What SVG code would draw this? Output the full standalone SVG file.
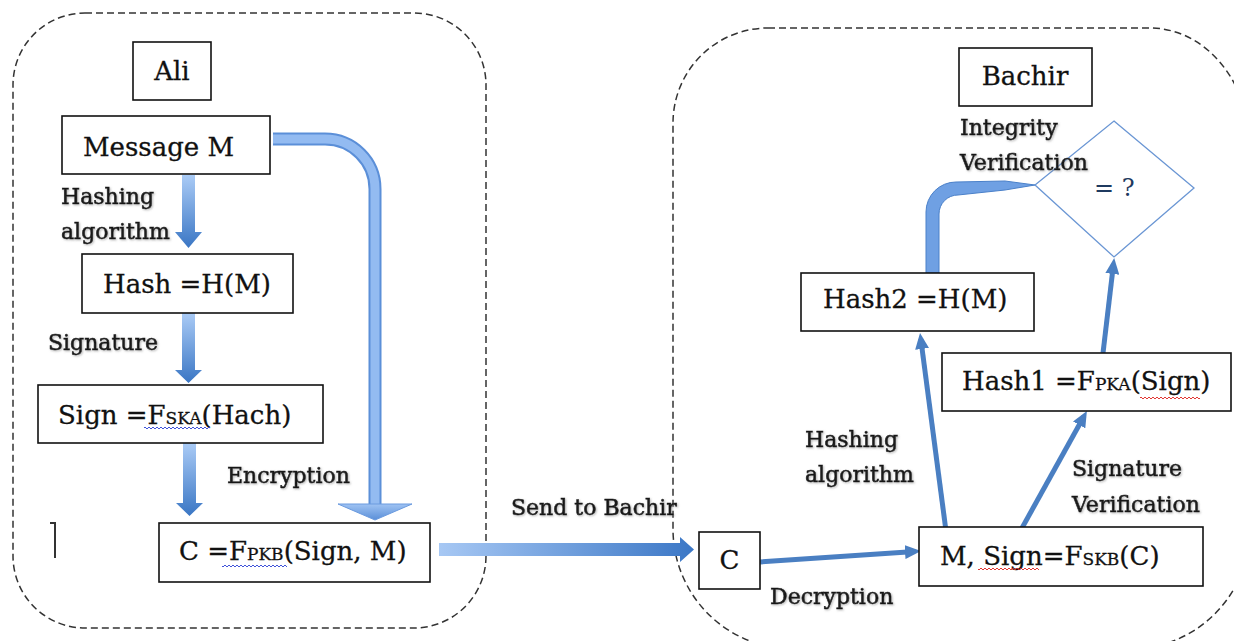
<svg xmlns="http://www.w3.org/2000/svg" width="1234" height="641" viewBox="0 0 1234 641">
  <style>
    .zone { fill: none; stroke: #333; stroke-width: 1.5; stroke-dasharray: 7 4; }
    .box { fill: #fff; stroke: #111; stroke-width: 1.6; }
    .bt { font-family: "DejaVu Serif", "Liberation Serif", serif; font-size: 26px; fill: #111; stroke: #111; stroke-width: 0.3; }
    .sc { font-size: 17px; }
    .lbl { font-family: "DejaVu Serif", "Liberation Serif", serif; font-size: 22px; fill: #1a1a1a; stroke: #1a1a1a; stroke-width: 0.55; filter: url(#glow); }
    .thin { fill: none; stroke: #4a7fc2; stroke-width: 5; marker-end: url(#head); }
    .spell-blue { fill: url(#waveBlue); }
    .spell-red { fill: url(#waveRed); }
  </style>
  <defs>
    <linearGradient id="gradV" x1="0" y1="0" x2="0" y2="1">
      <stop offset="0" stop-color="#aacbf6"/>
      <stop offset="1" stop-color="#3a76c4"/>
    </linearGradient>
    <linearGradient id="gradH" x1="0" y1="0" x2="1" y2="0">
      <stop offset="0" stop-color="#a7c8f4"/>
      <stop offset="1" stop-color="#3b77c6"/>
    </linearGradient>
    <linearGradient id="gradHead" x1="0" y1="0" x2="0" y2="1">
      <stop offset="0" stop-color="#9fc3f3"/>
      <stop offset="1" stop-color="#5a8fd8"/>
    </linearGradient>
    <marker id="head" markerUnits="userSpaceOnUse" viewBox="0 0 16 14" refX="10" refY="7" markerWidth="16" markerHeight="14" orient="auto">
      <path d="M0,0 L16,7 L0,14 Z" fill="#4a7fc2"/>
    </marker>
    <pattern id="waveBlue" patternUnits="userSpaceOnUse" width="4" height="3">
      <path d="M0,2 Q1,0 2,2 T4,2" fill="none" stroke="#2a3fd6" stroke-width="0.9"/>
    </pattern>
    <pattern id="waveRed" patternUnits="userSpaceOnUse" width="4" height="3">
      <path d="M0,2 Q1,0 2,2 T4,2" fill="none" stroke="#e0201c" stroke-width="0.9"/>
    </pattern>
    <filter id="glow" x="-10%" y="-30%" width="120%" height="160%">
      <feGaussianBlur in="SourceAlpha" stdDeviation="1.2"/>
      <feOffset dx="1" dy="1" result="b"/>
      <feFlood flood-color="#777" flood-opacity="0.55"/>
      <feComposite in2="b" operator="in"/>
      <feMerge><feMergeNode/><feMergeNode in="SourceGraphic"/></feMerge>
    </filter>
  </defs>

  <rect width="1234" height="641" fill="#fff"/>

  <!-- dashed party zones -->
  <g id="zones">
    <rect class="zone" x="13" y="13" width="473" height="615" rx="72" ry="72"/>
    <path class="zone" d="M768,28 H1150 A100,120 0 0 1 1250,148 V529 A120,120 0 0 1 1130,649 H793 A120,120 0 0 1 673,529 V123 A95,95 0 0 1 768,28 Z"/>
  </g>

  <!-- connectors -->
  <g id="connectors">
    <!-- Ali: block arrows -->
    <polygon points="182,175 195,175 195,232 202,232 188.5,248 175,232 182,232" fill="url(#gradV)"/>
    <polygon points="182,313 195,313 195,370 202,370 188.5,383 175,370 182,370" fill="url(#gradV)"/>
    <polygon points="183,443 196,443 196,503 203,503 189.5,516 176,503 183,503" fill="url(#gradV)"/>
    <!-- message bypass to encryption -->
    <path d="M273,139 H325 A50,50 0 0 1 375,189 V505" fill="none" stroke="#5b8fd8" stroke-width="13"/>
    <path d="M273,139 H325 A50,50 0 0 1 375,189 V505" fill="none" stroke="#93bbf1" stroke-width="9"/>
    <polygon points="338,504 412,504 375,520" fill="url(#gradHead)" stroke="#6a9ade" stroke-width="1"/>
    <!-- send to Bachir -->
    <polygon points="439,543 680,543 680,537 694,549.5 680,562 680,556 439,556" fill="url(#gradH)"/>
    <!-- Bachir: thin arrows -->
    <line class="thin" x1="760" y1="562" x2="915" y2="551.4"/>
    <line class="thin" x1="946" y1="531" x2="920.8" y2="339"/>
    <line class="thin" x1="1017" y1="537" x2="1084" y2="416.2"/>
    <line class="thin" x1="1103" y1="353" x2="1113.5" y2="264"/>
    <!-- Hash2 into comparison -->
    <path d="M926,273 V212 A30,30 0 0 1 956,182 L1005,181 L1035,185 L1005,190 L958,195 A19,19 0 0 0 939,214 V273 Z" fill="#6fa0e3" stroke="#4a80c9" stroke-width="1"/>
  </g>

  <!-- Ali side -->
  <g id="ali">
    <rect class="box" x="133" y="42" width="78" height="58"/>
    <text class="bt" x="172" y="80" text-anchor="middle">Ali</text>
  </g>
  <g id="message">
    <rect class="box" x="62" y="116" width="208" height="58"/>
    <text class="bt" x="83" y="156">Message M</text>
  </g>
  <g id="hash">
    <rect class="box" x="82" y="254" width="211" height="59"/>
    <text class="bt" x="103" y="293">Hash =H(M)</text>
  </g>
  <g id="sign">
    <rect class="box" x="38" y="385" width="285" height="58"/>
    <text class="bt" x="58" y="424">Sign =F<tspan class="sc">SKA</tspan>(Hach)</text>
    <rect class="spell-blue" x="144" y="426" width="66" height="3"/>
  </g>
  <g id="cipher">
    <rect class="box" x="159" y="523" width="271" height="59"/>
    <text class="bt" x="179" y="560">C =F<tspan class="sc">PKB</tspan>(Sign, M)</text>
    <rect class="spell-blue" x="222" y="564" width="65" height="3"/>
    <polyline points="50,523 55,523 55,558" fill="none" stroke="#333" stroke-width="2"/>
  </g>
  <g id="ali-labels">
    <text class="lbl" x="61" y="204">Hashing</text>
    <text class="lbl" x="61" y="239">algorithm</text>
    <text class="lbl" x="48" y="350">Signature</text>
    <text class="lbl" x="227" y="483">Encryption</text>
  </g>

  <g id="send-label">
    <text class="lbl" x="511" y="515">Send to Bachir</text>
  </g>

  <!-- Bachir side -->
  <g id="bachir">
    <rect class="box" x="959" y="48" width="133" height="58"/>
    <text class="bt" x="1025" y="85" text-anchor="middle">Bachir</text>
  </g>
  <g id="compare">
    <polygon points="1114,121 1194,188 1114,257 1035,185" fill="#fff" stroke="#6a96d4" stroke-width="1.3"/>
    <text x="1094" y="196" font-family="DejaVu Serif, Liberation Serif, serif" font-size="24" fill="#1f3a60">= ?</text>
    <text class="lbl" x="960" y="135">Integrity</text>
    <text class="lbl" x="960" y="170">Verification</text>
  </g>
  <g id="received">
    <rect class="box" x="699" y="532" width="61" height="57"/>
    <text class="bt" x="729.5" y="569" text-anchor="middle">C</text>
  </g>
  <g id="decrypted">
    <rect class="box" x="919" y="527" width="284" height="59"/>
    <text class="bt" x="940" y="565">M, Sign=F<tspan class="sc">SKB</tspan>(C)</text>
    <rect class="spell-red" x="978" y="567" width="61" height="3"/>
  </g>
  <g id="hash1">
    <rect class="box" x="942" y="353" width="289" height="58"/>
    <text class="bt" x="962" y="390">Hash1 =F<tspan class="sc">PKA</tspan>(Sign)</text>
    <rect class="spell-red" x="1140" y="396" width="60" height="3"/>
  </g>
  <g id="hash2">
    <rect class="box" x="801" y="273" width="233" height="58"/>
    <text class="bt" x="823" y="308">Hash2 =H(M)</text>
  </g>
  <g id="bachir-labels">
    <text class="lbl" x="770" y="604">Decryption</text>
    <text class="lbl" x="805" y="447">Hashing</text>
    <text class="lbl" x="805" y="482">algorithm</text>
    <text class="lbl" x="1072" y="476">Signature</text>
    <text class="lbl" x="1072" y="512">Verification</text>
  </g>
</svg>
